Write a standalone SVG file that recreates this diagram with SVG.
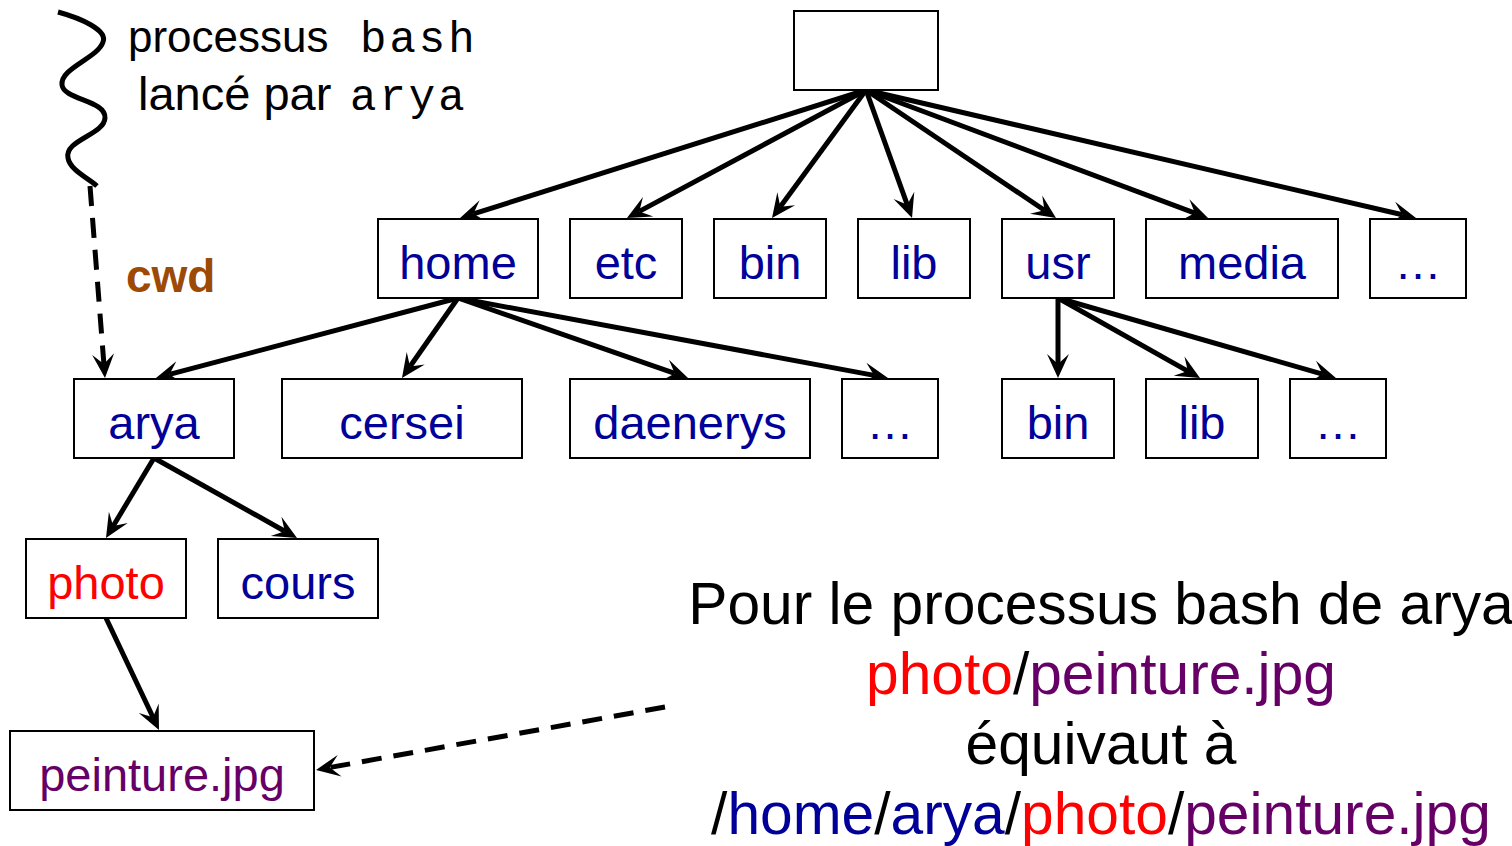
<svg xmlns="http://www.w3.org/2000/svg" width="1512" height="846" viewBox="0 0 1512 846">
<defs>
<marker id="ah" markerUnits="userSpaceOnUse" markerWidth="30" markerHeight="30" viewBox="0 0 30 30" refX="12" refY="15" orient="auto">
<path d="M2,4 L26,15 L2,26 L12,15 Z" fill="#000" stroke="none"/>
</marker>
</defs>
<style>
.box{fill:#fff;stroke:#000;stroke-width:2}
.lbl{font-family:"Liberation Sans",Arial,sans-serif;font-size:47px;text-anchor:middle;fill:#000099}
.con{fill:none;stroke:#000;stroke-width:5;marker-end:url(#ah)}
.dash{stroke-dasharray:20 12}
.big{font-family:"Liberation Sans",Arial,sans-serif;font-size:58.7px;text-anchor:middle;fill:#000}
.r{fill:#ff0000}.p{fill:#660066}.b{fill:#000099}
.t{font-family:"Liberation Sans",Arial,sans-serif;font-size:44px;fill:#000}
.m{font-family:"Liberation Mono","Courier New",monospace;font-size:44px;letter-spacing:3px}
</style>
<rect width="1512" height="846" fill="#fff"/>

<g id="connectors">
<line class="con" x1="866" y1="90" x2="473.4" y2="213.8"/>
<line class="con" x1="866" y1="90" x2="639.3" y2="211.4"/>
<line class="con" x1="866" y1="90" x2="780.3" y2="206.7"/>
<line class="con" x1="866" y1="90" x2="907.3" y2="204.8"/>
<line class="con" x1="866" y1="90" x2="1044.4" y2="210.2"/>
<line class="con" x1="866" y1="90" x2="1194.9" y2="213.1"/>
<line class="con" x1="866" y1="90" x2="1402.4" y2="214.8"/>
<line class="con" x1="458" y1="298" x2="169.5" y2="374.4"/>
<line class="con" x1="458" y1="298" x2="410.0" y2="366.5"/>
<line class="con" x1="458" y1="298" x2="674.8" y2="373.4"/>
<line class="con" x1="458" y1="298" x2="874.2" y2="375.4"/>
<line class="con" x1="1058" y1="298" x2="1058" y2="364"/>
<line class="con" x1="1058" y1="298" x2="1187.8" y2="371.1"/>
<line class="con" x1="1058" y1="298" x2="1322.5" y2="374.1"/>
<line class="con" x1="154" y1="458" x2="113.2" y2="526.0"/>
<line class="con" x1="154" y1="458" x2="284.8" y2="531.2"/>
<line class="con" x1="106" y1="618" x2="153.0" y2="717.3"/>
<line class="con dash" x1="90" y1="186" x2="103.9" y2="364.0"/>
<line class="con dash" x1="665" y1="707" x2="329.8" y2="767.5"/>
</g>

<g id="process">
<path d="M58,12 C80,18 108,30 103,42 C98,58 60,68 62,85 C64,100 106,100 105,118 C104,135 64,140 68,158 C70,170 88,178 97,186" fill="none" stroke="#000" stroke-width="5"/>
<text class="t" x="128" y="52">processus <tspan class="m" x="360">bash</tspan></text>
<text class="t" x="138" y="110" style="font-size:47px">lancé par <tspan class="m" x="350">arya</tspan></text>
</g>
<text id="cwd" x="126" y="292" font-family="'Liberation Sans',Arial,sans-serif" font-size="46" font-weight="bold" fill="#9c4a06">cwd</text>

<g id="root"><rect class="box" x="794" y="11" width="144" height="79"/></g>

<g id="home"><rect class="box" x="378" y="219" width="160" height="79"/><text class="lbl" x="458" y="279">home</text></g>
<g id="etc"><rect class="box" x="570" y="219" width="112" height="79"/><text class="lbl" x="626" y="279">etc</text></g>
<g id="bin"><rect class="box" x="714" y="219" width="112" height="79"/><text class="lbl" x="770" y="279">bin</text></g>
<g id="lib"><rect class="box" x="858" y="219" width="112" height="79"/><text class="lbl" x="914" y="279">lib</text></g>
<g id="usr"><rect class="box" x="1002" y="219" width="112" height="79"/><text class="lbl" x="1058" y="279">usr</text></g>
<g id="media"><rect class="box" x="1146" y="219" width="192" height="79"/><text class="lbl" x="1242" y="279">media</text></g>
<g id="more1"><rect class="box" x="1370" y="219" width="96" height="79"/><text class="lbl" x="1418" y="279">…</text></g>

<g id="arya"><rect class="box" x="74" y="379" width="160" height="79"/><text class="lbl" x="154" y="439">arya</text></g>
<g id="cersei"><rect class="box" x="282" y="379" width="240" height="79"/><text class="lbl" x="402" y="439">cersei</text></g>
<g id="daenerys"><rect class="box" x="570" y="379" width="240" height="79"/><text class="lbl" x="690" y="439">daenerys</text></g>
<g id="more2"><rect class="box" x="842" y="379" width="96" height="79"/><text class="lbl" x="890" y="439">…</text></g>
<g id="usr-bin"><rect class="box" x="1002" y="379" width="112" height="79"/><text class="lbl" x="1058" y="439">bin</text></g>
<g id="usr-lib"><rect class="box" x="1146" y="379" width="112" height="79"/><text class="lbl" x="1202" y="439">lib</text></g>
<g id="more3"><rect class="box" x="1290" y="379" width="96" height="79"/><text class="lbl" x="1338" y="439">…</text></g>

<g id="photo"><rect class="box" x="26" y="539" width="160" height="79"/><text class="lbl r" x="106" y="599">photo</text></g>
<g id="cours"><rect class="box" x="218" y="539" width="160" height="79"/><text class="lbl" x="298" y="599">cours</text></g>
<g id="peinture"><rect class="box" x="10" y="731" width="304" height="79"/><text class="lbl p" x="162" y="791">peinture.jpg</text></g>

<g id="note">
<text class="big" x="1101" y="624">Pour le processus bash de arya</text>
<text class="big" x="1101" y="694"><tspan class="r">photo</tspan>/<tspan class="p">peinture.jpg</tspan></text>
<text class="big" x="1101" y="764">équivaut à</text>
<text class="big" x="1101" y="834">/<tspan class="b">home</tspan>/<tspan class="b">arya</tspan>/<tspan class="r">photo</tspan>/<tspan class="p">peinture.jpg</tspan></text>
</g>
</svg>
